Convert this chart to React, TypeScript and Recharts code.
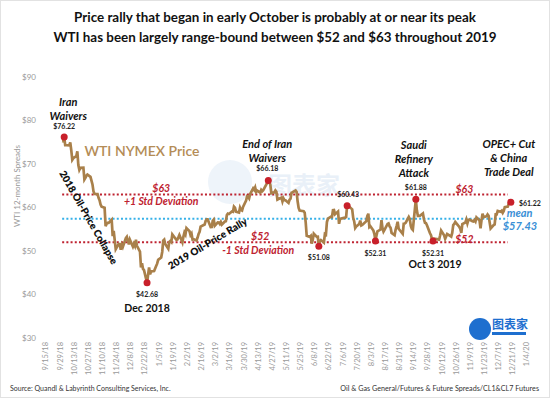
import React from "react";
import { LineChart, Line, XAxis, YAxis, ReferenceLine, ReferenceDot } from "recharts";

// day 0 of the x axis is 9/15/18
const START = Date.UTC(2018, 8, 15);
const dayOf = (s: string) => {
  const [m, d, y] = s.split("/").map(Number);
  return Math.round((Date.UTC(2000 + y, m - 1, d) - START) / 86400000);
};
const labelOf = (day: number) => {
  const dt = new Date(START + day * 86400000);
  return `${dt.getUTCMonth() + 1}/${dt.getUTCDate()}/${String(dt.getUTCFullYear()).slice(2)}`;
};

const tickDates = [
  "9/15/18", "9/29/18", "10/13/18", "10/27/18", "11/10/18", "11/24/18", "12/8/18", "12/22/18",
  "1/5/19", "1/19/19", "2/2/19", "2/16/19", "3/2/19", "3/16/19", "3/30/19", "4/13/19", "4/27/19",
  "5/11/19", "5/25/19", "6/8/19", "6/22/19", "7/6/19", "7/20/19", "8/3/19", "8/17/19", "8/31/19",
  "9/14/19", "9/28/19", "10/12/19", "10/26/19", "11/9/19", "11/23/19", "12/7/19", "12/21/19", "1/4/20",
];
const priceTicks = [30, 40, 50, 60, 70, 80, 90];

// [day of month, price]
const oct18: [number, number][] = [[1, 75.3], [2, 75.23], [3, 76.22], [4, 74.33], [5, 74.34], [8, 74.29], [9, 74.96], [10, 73.17], [11, 70.97], [12, 71.34], [15, 71.78], [16, 72.92], [17, 69.75], [18, 68.65], [19, 69.12], [22, 69.17], [23, 66.43], [24, 66.82], [25, 67.33], [26, 67.59], [29, 67.04], [30, 66.18], [31, 65.31]];
const nov18: [number, number][] = [[1, 63.69], [2, 63.14], [5, 63.1], [6, 62.21], [7, 61.67], [8, 60.67], [9, 60.19], [12, 59.93], [13, 55.69], [14, 56.25], [15, 56.46], [16, 56.46], [19, 57.2], [20, 53.43], [21, 54.63], [23, 50.42], [26, 51.63], [27, 51.56], [28, 50.29], [29, 51.45], [30, 50.93]];
const dec18: [number, number][] = [[3, 52.95], [4, 53.25], [6, 51.49], [7, 52.61], [10, 51.0], [11, 51.65], [12, 51.15], [13, 52.58], [14, 51.2], [17, 49.88], [18, 46.24], [19, 47.2], [20, 45.88], [21, 45.59], [24, 42.68], [26, 46.22], [27, 44.61], [28, 45.33], [31, 45.41]];
const jan19: [number, number][] = [[2, 46.54], [3, 47.09], [4, 47.96], [7, 48.52], [8, 49.78], [9, 52.36], [10, 52.59], [11, 51.59], [14, 50.51], [15, 52.11], [16, 52.31], [17, 52.07], [18, 53.8], [22, 52.57], [23, 52.62], [24, 53.13], [25, 53.69], [28, 51.99], [29, 53.31], [30, 54.23], [31, 53.79]];
const feb19: [number, number][] = [[1, 55.26], [4, 54.56], [5, 53.66], [6, 54.01], [7, 52.64], [8, 52.72], [11, 52.41], [12, 53.1], [13, 53.9], [14, 54.41], [15, 55.59], [19, 56.09], [20, 56.92], [21, 57.26], [22, 57.26], [25, 55.48], [26, 55.5], [27, 56.94], [28, 57.22]];
const mar19: [number, number][] = [[1, 55.8], [4, 56.59], [5, 56.56], [6, 56.22], [7, 56.66], [8, 56.07], [11, 56.79], [12, 56.87], [13, 58.26], [14, 58.61], [15, 58.52], [18, 59.09], [19, 59.03], [20, 60.23], [21, 59.98], [22, 59.04], [25, 58.82], [26, 59.94], [27, 59.41], [28, 59.3], [29, 60.14]];
const apr19: [number, number][] = [[1, 61.59], [2, 62.58], [3, 62.46], [4, 62.1], [5, 63.08], [8, 64.4], [9, 64.05], [10, 64.61], [11, 63.58], [12, 63.89], [15, 63.4], [16, 64.05], [17, 63.76], [18, 64.0], [22, 65.7], [23, 66.18], [24, 65.89], [25, 65.21], [26, 63.3], [29, 63.5], [30, 63.91]];
const may19: [number, number][] = [[1, 63.6], [2, 61.81], [3, 61.94], [6, 62.25], [7, 61.4], [8, 62.12], [9, 61.7], [10, 61.66], [13, 61.04], [14, 61.78], [15, 62.02], [16, 63.4], [17, 63.5], [20, 63.9], [21, 63.6], [22, 61.42], [23, 59.9], [24, 59.3], [28, 59.14], [29, 58.81], [30, 56.59], [31, 53.5]];
const jun19: [number, number][] = [[3, 53.25], [4, 53.48], [5, 51.68], [6, 52.59], [7, 53.99], [10, 53.26], [11, 53.27], [12, 51.08], [13, 52.28], [14, 52.51], [17, 51.93], [18, 53.9], [19, 53.76], [20, 56.65], [21, 57.43], [24, 57.9], [25, 57.83], [26, 59.38], [27, 59.43], [28, 58.47]];
const jul19: [number, number][] = [[1, 59.09], [2, 56.25], [3, 57.34], [5, 57.51], [8, 57.66], [9, 57.83], [10, 60.43], [11, 60.2], [12, 60.21], [15, 59.58], [16, 57.62], [17, 56.78], [18, 55.3], [19, 55.63], [22, 56.22], [23, 57.0], [24, 55.88], [25, 56.02], [26, 56.2], [29, 56.87], [30, 58.05], [31, 58.58]];
const aug19: [number, number][] = [[1, 55.5], [2, 55.7], [5, 54.7], [6, 53.9], [7, 52.31], [8, 53.5], [9, 54.5], [12, 54.93], [13, 57.1], [14, 55.23], [15, 54.47], [16, 54.87], [19, 56.21], [20, 56.34], [21, 55.68], [22, 55.35], [23, 54.17], [26, 53.64], [27, 54.93], [28, 55.78], [29, 56.71], [30, 55.1]];
const sep19: [number, number][] = [[3, 53.94], [4, 56.26], [5, 56.3], [6, 56.52], [9, 57.85], [10, 57.4], [11, 55.75], [12, 55.09], [13, 54.85], [16, 61.88], [17, 59.34], [18, 58.11], [19, 58.13], [20, 58.09], [23, 58.64], [24, 57.29], [25, 56.49], [26, 56.41], [27, 55.91], [30, 54.07]];
const oct19: [number, number][] = [[1, 53.62], [2, 52.64], [3, 52.31], [4, 52.81], [7, 52.75], [8, 52.63], [9, 52.59], [10, 53.55], [11, 54.7], [14, 53.59], [15, 52.81], [16, 53.36], [17, 53.93], [18, 53.78], [21, 53.31], [22, 54.16], [23, 55.97], [24, 56.23], [25, 56.66], [28, 55.81], [29, 55.54], [30, 55.06], [31, 54.18]];
const nov19: [number, number][] = [[1, 56.2], [4, 56.54], [5, 57.23], [6, 56.35], [7, 57.15], [8, 57.24], [11, 56.86], [12, 56.8], [13, 57.12], [14, 56.77], [15, 57.72], [18, 57.05], [19, 55.21], [20, 57.11], [21, 58.58], [22, 57.77], [25, 58.01], [26, 58.41], [27, 58.11], [29, 55.17]];
const dec19: [number, number][] = [[2, 55.96], [3, 56.1], [4, 58.43], [5, 58.43], [6, 59.2], [9, 59.02], [10, 59.24], [11, 58.76], [12, 59.18], [13, 60.07], [16, 60.21], [17, 60.94], [18, 60.93], [19, 61.22]];

const months: { month: string; rows: [number, number][] }[] = [
  { month: "10/18", rows: oct18 }, { month: "11/18", rows: nov18 }, { month: "12/18", rows: dec18 },
  { month: "1/19", rows: jan19 }, { month: "2/19", rows: feb19 }, { month: "3/19", rows: mar19 },
  { month: "4/19", rows: apr19 }, { month: "5/19", rows: may19 }, { month: "6/19", rows: jun19 },
  { month: "7/19", rows: jul19 }, { month: "8/19", rows: aug19 }, { month: "9/19", rows: sep19 },
  { month: "10/19", rows: oct19 }, { month: "11/19", rows: nov19 }, { month: "12/19", rows: dec19 },
];

const upperBand = 63;
const lowerBand = 52;
const meanPrice = 57.43;
const bandStart = "10/1/18";
const bandEnd = "12/16/19";

// highlighted turning points
const markers = [
  { at: "10/3/18", price: 76.22 },
  { at: "12/24/18", price: 42.68 },
  { at: "4/23/19", price: 66.18 },
  { at: "6/12/19", price: 51.08 },
  { at: "7/10/19", price: 60.43 },
  { at: "8/7/19", price: 52.31 },
  { at: "9/16/19", price: 61.88 },
  { at: "10/3/19", price: 52.31 },
  { at: "12/19/19", price: 61.22 },
];

type Note = { at: string; price: number; text: string; kind: string; angle?: number; anchor?: string };
const notes: Note[] = [
  { at: "10/7/18", price: 84.3, text: "Iran", kind: "event" },
  { at: "10/7/18", price: 81.0, text: "Waivers", kind: "event" },
  { at: "10/3/18", price: 78.7, text: "$76.22", kind: "price" },
  { at: "12/19/18", price: 73.0, text: "WTI NYMEX Price", kind: "series" },
  { at: "10/27/18", price: 57.7, text: "2018 Oil-Price Collapse", kind: "trend", angle: 60 },
  { at: "2/22/19", price: 51.7, text: "2019 Oil-Price Rally", kind: "trend", angle: -31 },
  { at: "1/7/19", price: 64.5, text: "$63", kind: "band" },
  { at: "1/7/19", price: 61.5, text: "+1 Std Deviation", kind: "band" },
  { at: "4/15/19", price: 53.45, text: "$52", kind: "band" },
  { at: "4/13/19", price: 50.2, text: "-1 Std Deviation", kind: "band" },
  { at: "4/22/19", price: 74.6, text: "End of Iran", kind: "event" },
  { at: "4/22/19", price: 71.4, text: "Waivers", kind: "event" },
  { at: "4/22/19", price: 68.85, text: "$66.18", kind: "price" },
  { at: "6/12/19", price: 48.4, text: "$51.08", kind: "price" },
  { at: "7/11/19", price: 62.9, text: "$60.43", kind: "price" },
  { at: "8/7/19", price: 49.5, text: "$52.31", kind: "price" },
  { at: "9/14/19", price: 74.4, text: "Saudi", kind: "event" },
  { at: "9/14/19", price: 71.1, text: "Refinery", kind: "event" },
  { at: "9/14/19", price: 67.9, text: "Attack", kind: "event" },
  { at: "9/16/19", price: 64.5, text: "$61.88", kind: "price" },
  { at: "11/3/19", price: 64.25, text: "$63", kind: "band" },
  { at: "10/3/19", price: 49.5, text: "$52.31", kind: "price" },
  { at: "10/5/19", price: 47.0, text: "Oct 3 2019", kind: "date" },
  { at: "11/3/19", price: 52.75, text: "$52", kind: "band" },
  { at: "12/17/19", price: 74.6, text: "OPEC+ Cut", kind: "event" },
  { at: "12/17/19", price: 71.4, text: "& China", kind: "event" },
  { at: "12/17/19", price: 68.2, text: "Trade Deal", kind: "event" },
  { at: "12/27/19", price: 61.0, text: "$61.22", kind: "price", anchor: "start" },
  { at: "12/15/19", price: 58.7, text: "mean", kind: "mean", anchor: "start" },
  { at: "12/11/19", price: 55.75, text: "$57.43", kind: "mean", anchor: "start" },
  { at: "12/24/18", price: 40.1, text: "$42.68", kind: "price" },
  { at: "12/24/18", price: 36.9, text: "Dec 2018", kind: "date" },
];

const FONT = "Lato, 'Open Sans', sans-serif";
const RED = "#be2230";
const BLUE = "#3a8fd6";
const GOLD = "#a9804a";

const noteStyle: Record<string, any> = {
  event: { fontSize: 11, fontWeight: 700, fontStyle: "italic", fill: "#111" },
  price: { fontSize: 7, fontWeight: 700, fill: "#222" },
  series: { fontSize: 14, fontWeight: 600, fill: "#b48c56" },
  trend: { fontSize: 10, fontWeight: 800, fill: "#111" },
  band: { fontSize: 10.5, fontWeight: 700, fontStyle: "italic", fill: RED },
  mean: { fontSize: 11, fontWeight: 700, fontStyle: "italic", fill: BLUE },
  date: { fontSize: 10.5, fontWeight: 700, fill: "#111" },
};

const data = months.flatMap(({ month, rows }) => {
  const [m, y] = month.split("/");
  return rows.map(([d, price]) => ({ day: dayOf(`${m}/${d}/${y}`), price }));
});

const DateTick = (p: any) => (
  <text
    x={p.x}
    y={p.y}
    transform={`rotate(-90 ${p.x} ${p.y})`}
    textAnchor="end"
    dy="0.33em"
    fontSize={7.5}
    fill="#9a9a9a"
    fontFamily={FONT}
  >
    {labelOf(p.payload.value)}
  </text>
);

export default function App() {
  return (
    <div
      style={{
        position: "absolute",
        left: 0,
        top: 0,
        width: 550,
        height: 398,
        background: "#fff",
        fontFamily: FONT,
        overflow: "hidden",
        boxShadow: "inset 0 0 0 1px #e2e2e2",
      }}
    >
      {/* faint watermark */}
      <div style={{ position: "absolute", left: 208, top: 160, width: 44, height: 44, borderRadius: 22, background: "#eef4fa" }} />
      <div style={{ position: "absolute", left: 268, top: 166, fontSize: 24, fontWeight: 700, color: "#e9f0f8", fontFamily: "'Noto Sans CJK SC'" }}>图表家</div>

      <div style={{ position: "absolute", left: 0, top: 0 }}>
        <LineChart width={550} height={398} data={data} margin={{ top: 77, right: 23, bottom: 20, left: 0 }}>
          <XAxis
            dataKey="day"
            type="number"
            domain={[0, dayOf("1/4/20")]}
            ticks={tickDates.map(dayOf)}
            tick={<DateTick />}
            tickLine={false}
            axisLine={false}
            tickSize={0}
            tickMargin={4}
            height={40}
            interval={0}
          />
          <YAxis
            domain={[30, 90]}
            ticks={priceTicks}
            tickFormatter={(v) => `$${v}`}
            tick={{ fontSize: 8, fill: "#9a9a9a", fontFamily: FONT }}
            tickLine={false}
            axisLine={false}
            tickMargin={4}
            width={46}
          />
          <ReferenceLine
            segment={[{ x: dayOf(bandStart), y: upperBand }, { x: dayOf(bandEnd), y: upperBand }]}
            stroke={RED}
            strokeWidth={2}
            strokeDasharray="2 2.2"
          />
          <ReferenceLine
            segment={[{ x: dayOf(bandStart), y: lowerBand }, { x: dayOf(bandEnd), y: lowerBand }]}
            stroke={RED}
            strokeWidth={2}
            strokeDasharray="2 2.2"
          />
          <ReferenceLine
            segment={[{ x: dayOf(bandStart), y: meanPrice }, { x: dayOf(bandEnd), y: meanPrice }]}
            stroke="#35b0e8"
            strokeWidth={2}
            strokeDasharray="2 2.2"
          />
          <Line
            type="linear"
            dataKey="price"
            stroke={GOLD}
            strokeWidth={2.7}
            dot={false}
            isAnimationActive={false}
          />
          {markers.map((mk) => (
            <ReferenceDot key={mk.at} x={dayOf(mk.at)} y={mk.price} r={3.5} fill="#c8202a" stroke="none" ifOverflow="visible" />
          ))}
          {notes.map((n, i) => (
            <ReferenceDot
              key={i}
              x={dayOf(n.at)}
              y={n.price}
              r={0}
              ifOverflow="visible"
              shape={(p: any) => (
                <text
                  x={p.cx}
                  y={p.cy}
                  dy="0.35em"
                  textAnchor={n.anchor || "middle"}
                  fontFamily={FONT}
                  transform={n.angle ? `rotate(${n.angle} ${p.cx} ${p.cy})` : undefined}
                  {...noteStyle[n.kind]}
                >
                  {n.text}
                </text>
              )}
            />
          ))}
        </LineChart>
      </div>

      {/* titles */}
      <div style={{ position: "absolute", left: 0, top: 7, width: 550, textAlign: "center", fontSize: 13.4, fontWeight: 700, color: "#111", lineHeight: "20px" }}>
        <div>Price rally that began in early October is probably at or near its peak</div>
        <div>WTI has been largely range-bound between $52 and $63 throughout 2019</div>
      </div>

      {/* axis title */}
      <div
        style={{
          position: "absolute",
          left: 17,
          top: 186,
          transform: "translate(-50%, -50%) rotate(-90deg)",
          fontSize: 8,
          color: "#9a9a9a",
          whiteSpace: "nowrap",
        }}
      >
        WTI 12-month Spreads
      </div>

      {/* logo */}
      <div style={{ position: "absolute", left: 469, top: 318, width: 22, height: 22, borderRadius: 11, background: "#1e6fcf" }} />
      <div style={{ position: "absolute", left: 492, top: 316, fontSize: 12, fontWeight: 700, color: "#1e6fcf", fontFamily: "'Noto Sans CJK SC'", lineHeight: "16px" }}>图表家</div>
      <div style={{ position: "absolute", left: 492, top: 332, width: 34, height: 3, background: "#1e6fcf" }} />

      {/* sources */}
      <div style={{ position: "absolute", left: 10, top: 384, fontSize: 7, color: "#333", whiteSpace: "nowrap" }}>
        Source: Quandl &amp; Labyrinth Consulting Services, Inc.
      </div>
      <div style={{ position: "absolute", right: 11, top: 384, fontSize: 7.2, color: "#333", whiteSpace: "nowrap" }}>
        Oil &amp; Gas General/Futures &amp; Future Spreads/CL1&amp;CL7 Futures
      </div>
    </div>
  );
}
